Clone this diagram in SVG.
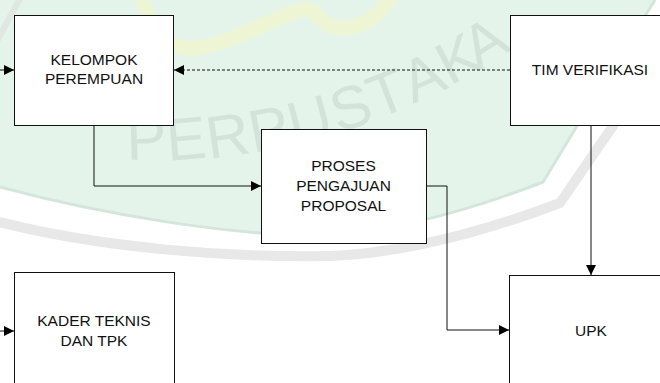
<svg xmlns="http://www.w3.org/2000/svg" width="660" height="383" viewBox="0 0 660 383">
  <defs>
    <marker id="arr" markerUnits="userSpaceOnUse" markerWidth="10" markerHeight="10" refX="10" refY="5" orient="auto">
      <path d="M0,0 L10,5 L0,10 Z" fill="#000"/>
    </marker>
  </defs>
  <style>
    .box { fill: #fff; stroke: #111; stroke-width: 1; }
    .lbl { font-family: "Liberation Sans", Arial, sans-serif; font-size: 15.5px; fill: #111; text-anchor: middle; }
    .con { fill: none; stroke: #111; stroke-width: 1; }
    .dash { stroke-dasharray: 3 2; }
    .wm { font-family: "Liberation Sans", Arial, sans-serif; font-size: 60px; fill: #d3e3d9; }
  </style>

  <!-- watermark background -->
  <g id="watermark">
    <rect x="0" y="0" width="660" height="383" fill="#fff"/>
    <path d="M0,0 L655,0 L600,88 L543,182 Q430,226 330,236 C230,236 100,214 0,187 Z" fill="#e4f4eb"/>
    <path d="M0,187 C100,214 230,236 330,236 Q430,226 543,182 L600,88 L655,0" fill="none" stroke="#d4e6db" stroke-width="3"/>
    <path d="M-5,221 C100,248 230,258 330,256 Q430,252 560,203 L617,120 L668,40" fill="none" stroke="#e8e8e8" stroke-width="10"/>
    <path d="M-5,45 Q8,20 22,-5" fill="none" stroke="#e0e6e2" stroke-width="6"/>
    <path d="M140,-8 C150,30 165,50 195,48 C225,46 270,20 300,10 C320,5 318,30 345,28 C370,26 385,10 392,-8" fill="none" stroke="#eef5d4" stroke-width="15"/>
    <text class="wm" transform="translate(127,160) rotate(-2)">P</text>
    <text class="wm" transform="translate(168,161) rotate(-5)">E</text>
    <text class="wm" transform="translate(209,159) rotate(-8)">R</text>
    <text class="wm" transform="translate(253,153) rotate(-11)">P</text>
    <text class="wm" transform="translate(294,145) rotate(-15)">U</text>
    <text class="wm" transform="translate(338,133) rotate(-18)">S</text>
    <text class="wm" transform="translate(377,119) rotate(-21)">T</text>
    <text class="wm" transform="translate(413,104) rotate(-24)">A</text>
    <text class="wm" transform="translate(450,86) rotate(-28)">K</text>
    <text class="wm" transform="translate(478,70) rotate(-31)">A</text>
  </g>

  <!-- connectors -->
  <g id="connectors">
    <line class="con" x1="0" y1="70" x2="14" y2="70" marker-end="url(#arr)"/>
    <line class="con dash" x1="510" y1="70" x2="174" y2="70" marker-end="url(#arr)"/>
    <polyline class="con" points="94,125 94,186 261,186" marker-end="url(#arr)"/>
    <polyline class="con" points="426,186 447,186 447,330 509,330" marker-end="url(#arr)"/>
    <line class="con" x1="591" y1="125" x2="591" y2="275" marker-end="url(#arr)"/>
    <line class="con" x1="0" y1="331" x2="14" y2="331" marker-end="url(#arr)"/>
  </g>

  <g id="kelompok">
    <rect class="box" x="14.5" y="15.5" width="159" height="110"/>
    <text class="lbl" x="94" y="65">KELOMPOK</text>
    <text class="lbl" x="94" y="84">PEREMPUAN</text>
  </g>

  <g id="tim">
    <rect class="box" x="510.5" y="15.5" width="160" height="110"/>
    <text class="lbl" x="590" y="75">TIM VERIFIKASI</text>
  </g>

  <g id="proses">
    <rect class="box" x="261.5" y="129.5" width="165" height="114"/>
    <text class="lbl" x="343.5" y="171">PROSES</text>
    <text class="lbl" x="343.5" y="191">PENGAJUAN</text>
    <text class="lbl" x="343.5" y="211">PROPOSAL</text>
  </g>

  <g id="upk">
    <rect class="box" x="509.5" y="275.5" width="162" height="120"/>
    <text class="lbl" x="591" y="336">UPK</text>
  </g>

  <g id="kader">
    <rect class="box" x="14.5" y="272.5" width="160" height="120"/>
    <text class="lbl" x="94" y="326">KADER TEKNIS</text>
    <text class="lbl" x="94" y="346">DAN TPK</text>
  </g>
</svg>
